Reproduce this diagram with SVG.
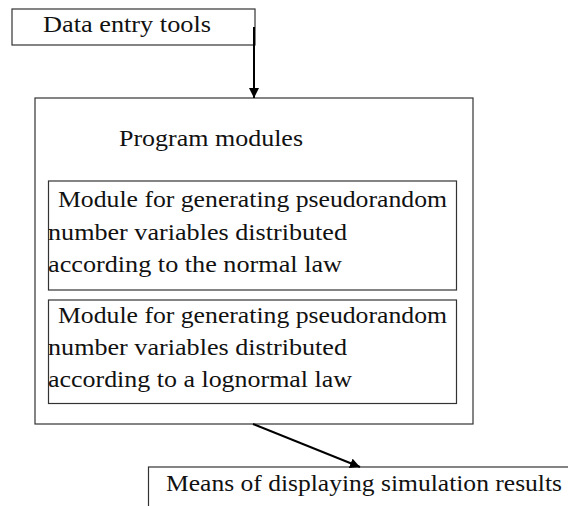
<svg xmlns="http://www.w3.org/2000/svg" width="568" height="506" viewBox="0 0 568 506" font-family="Liberation Serif, Times New Roman, serif" font-size="22.5">
<style>
.box{fill:none;stroke:#333;stroke-width:1.2}
.c{stroke:#000;stroke-width:2;fill:none}
</style>
<defs>
<marker id="ah" viewBox="0 0 10 10" refX="10" refY="5" markerWidth="5" markerHeight="5" orient="auto" markerUnits="strokeWidth">
<path d="M0,0 L10,5 L0,10 z" fill="#000"/>
</marker>
</defs>
<rect width="568" height="506" fill="#fff"/>
<g id="data-entry" fill="#111">
<rect class="box" x="12" y="9" width="243" height="36"/>
<text x="43" y="32" textLength="168" lengthAdjust="spacingAndGlyphs">Data entry tools</text>
</g>
<g id="program-modules" fill="#111">
<rect class="box" x="35" y="98" width="438" height="326"/>
<text x="119" y="146" textLength="184" lengthAdjust="spacingAndGlyphs">Program modules</text>
</g>
<g id="module-normal" fill="#111">
<rect class="box" x="48.5" y="181" width="408" height="109"/>
<text x="58" y="207" textLength="389" lengthAdjust="spacingAndGlyphs">Module for generating pseudorandom</text>
<text x="48" y="240" textLength="299" lengthAdjust="spacingAndGlyphs">number variables distributed</text>
<text x="48" y="272" textLength="294" lengthAdjust="spacingAndGlyphs">according to the normal law</text>
</g>
<g id="module-lognormal" fill="#111">
<rect class="box" x="48.5" y="300" width="408" height="103.5"/>
<text x="58" y="323" textLength="389" lengthAdjust="spacingAndGlyphs">Module for generating pseudorandom</text>
<text x="48" y="355" textLength="299" lengthAdjust="spacingAndGlyphs">number variables distributed</text>
<text x="48" y="387" textLength="304" lengthAdjust="spacingAndGlyphs">according to a lognormal law</text>
</g>
<g id="display" fill="#111">
<rect class="box" x="148.5" y="467" width="460" height="60"/>
<text x="166" y="491" textLength="396" lengthAdjust="spacingAndGlyphs">Means of displaying simulation results</text>
</g>
<g id="connectors">
<line class="c" x1="254" y1="27" x2="254" y2="98" marker-end="url(#ah)"/>
<line class="c" x1="253" y1="424" x2="360" y2="467" marker-end="url(#ah)"/>
</g>
</svg>
